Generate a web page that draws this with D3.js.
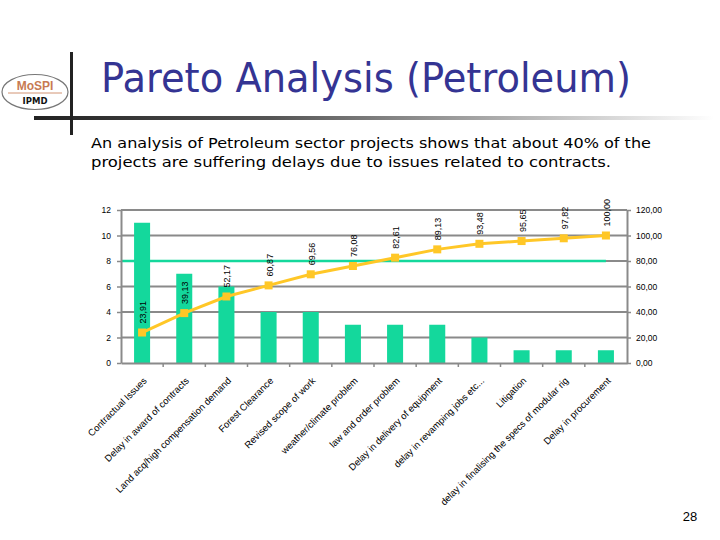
<!DOCTYPE html>
<html>
<head>
<meta charset="utf-8">
<script src="https://cdn.jsdelivr.net/npm/d3@7"></script>
<style>
  body { margin: 0; background: #fff; }
  svg { display: block; }
</style>
</head>
<body>
<div id="graphDiv"></div>
<script>
var categories = ["Contractual Issues", "Delay in award of contracts", "Land acq/high compensation demand",
  "Forest Clearance", "Revised scope of work", "weather/climate problem", "law and order problem",
  "Delay in delivery of equipment", "delay in revamping jobs etc...", "Litigation",
  "delay in finalising the specs of modular rig", "Delay in procurement"];
var counts = [11, 7, 6, 4, 4, 3, 3, 3, 2, 1, 1, 1];
var cumulative = [23.91, 39.13, 52.17, 60.87, 69.56, 76.08, 82.61, 89.13, 93.48, 95.65, 97.82, 100.00];
var leftTicks = [0, 2, 4, 6, 8, 10, 12];
var rightTicks = [0, 20, 40, 60, 80, 100, 120];
var threshold = 80;

var W = 720, H = 540;
var plot = {left: 121, right: 627, top: 210, bottom: 363};
var barColor = "#14d89c", lineColor = "#ffc727", gridColor = "#8a8a8a";

var svg = d3.select("#graphDiv")
  .append("svg")
    .attr("width", W)
    .attr("height", H);

var defs = svg.append("defs");
var grad = defs.append("linearGradient").attr("id", "fade");
grad.append("stop").attr("offset", "0%").attr("stop-color", "#222");
grad.append("stop").attr("offset", "35%").attr("stop-color", "#555");
grad.append("stop").attr("offset", "100%").attr("stop-color", "#fff");

// header decoration
svg.append("rect").attr("x", 34).attr("y", 116).attr("width", 680).attr("height", 4).attr("fill", "url(#fade)");
svg.append("rect").attr("x", 70).attr("y", 52).attr("width", 3).attr("height", 83).attr("fill", "#222");

// logo
svg.append("ellipse").attr("cx", 35).attr("cy", 92).attr("rx", 33).attr("ry", 17.5)
  .attr("fill", "#fff").attr("stroke", "#777").attr("stroke-width", 1.2);
svg.append("text").attr("x", 35).attr("y", 90).attr("text-anchor", "middle")
  .style("font-family", "Liberation Sans, Arial").style("font-weight", "bold").style("font-size", "12px")
  .attr("fill", "#c77a52").text("MoSPI");
svg.append("line").attr("x1", 8).attr("x2", 62).attr("y1", 93).attr("y2", 93)
  .attr("stroke", "#c77a52").attr("stroke-width", 0.8);
svg.append("text").attr("x", 35).attr("y", 103.5).attr("text-anchor", "middle")
  .style("font-family", "DejaVu Sans, sans-serif").style("font-weight", "bold").style("font-size", "8.5px")
  .attr("fill", "#111").text("IPMD");

// title
svg.append("text").attr("x", 101).attr("y", 92)
  .attr("textLength", 530).attr("lengthAdjust", "spacingAndGlyphs")
  .style("font-family", "DejaVu Sans, sans-serif").style("font-size", "40px")
  .attr("fill", "#343493").text("Pareto Analysis (Petroleum)");

// subtitle
svg.append("text").attr("x", 91).attr("y", 148)
  .attr("textLength", 560).attr("lengthAdjust", "spacingAndGlyphs")
  .style("font-family", "DejaVu Sans, sans-serif").style("font-size", "14.5px")
  .attr("fill", "#000").text("An  analysis of Petroleum sector projects shows that about 40% of the");
svg.append("text").attr("x", 91).attr("y", 167)
  .attr("textLength", 520).attr("lengthAdjust", "spacingAndGlyphs")
  .style("font-family", "DejaVu Sans, sans-serif").style("font-size", "14.5px")
  .attr("fill", "#000").text("projects are suffering delays due to issues related to contracts.");

// page number
svg.append("text").attr("x", 690).attr("y", 521).attr("text-anchor", "middle")
  .style("font-family", "Liberation Sans, Arial").style("font-size", "13px")
  .attr("fill", "#000").text("28");

// scales
var x = d3.scaleBand().domain(categories).range([plot.left, plot.right]);
var y = d3.scaleLinear().domain([0, 12]).range([plot.bottom, plot.top]);
var y2 = d3.scaleLinear().domain([0, 120]).range([plot.bottom, plot.top]);

var chart = svg.append("g");

// gridlines
chart.append("g").selectAll("line")
  .data(leftTicks.filter(function (d) { return d > 0; }))
  .enter().append("line")
    .attr("x1", plot.left).attr("x2", plot.right)
    .attr("y1", function (d) { return y(d); }).attr("y2", function (d) { return y(d); })
    .attr("stroke", gridColor).attr("stroke-width", 2);

// bars
var bw = x.bandwidth() * 0.38;
chart.append("g").selectAll("rect")
  .data(counts)
  .enter().append("rect")
    .attr("x", function (d, i) { return x(categories[i]) + x.bandwidth() / 2 - bw / 2; })
    .attr("y", function (d) { return y(d); })
    .attr("width", bw)
    .attr("height", function (d) { return y(0) - y(d); })
    .attr("fill", barColor);

// 80% line
chart.append("line")
  .attr("x1", plot.left)
  .attr("x2", x(categories[categories.length - 1]) + x.bandwidth() / 2)
  .attr("y1", y2(threshold)).attr("y2", y2(threshold))
  .attr("stroke", barColor).attr("stroke-width", 2.5);

// axes
var tickFont = function (g) {
  g.selectAll("text").style("font-family", "Liberation Sans, Arial").style("font-size", "8.5px").attr("fill", "#000");
  g.selectAll("line").attr("stroke", gridColor).attr("stroke-width", 1.5);
  g.select(".domain").attr("stroke", gridColor).attr("stroke-width", 2);
};

chart.append("g")
  .attr("transform", "translate(" + plot.left + ",0)")
  .call(d3.axisLeft(y).tickValues(leftTicks).tickSize(4).tickSizeOuter(0).tickPadding(6))
  .call(tickFont);

chart.append("g")
  .attr("transform", "translate(" + plot.right + ",0)")
  .call(d3.axisRight(y2).tickValues(rightTicks).tickSize(4).tickSizeOuter(0).tickPadding(5)
    .tickFormat(function (d) { return d3.format(".2f")(d).replace(".", ","); }))
  .call(tickFont);

chart.append("g")
  .attr("transform", "translate(0," + plot.bottom + ")")
  .call(d3.axisBottom(x).tickSize(0).tickSizeOuter(0).tickFormat(""))
  .call(tickFont);

// category boundary ticks
chart.append("g").selectAll("line")
  .data(categories.slice(1))
  .enter().append("line")
    .attr("x1", function (d) { return x(d); }).attr("x2", function (d) { return x(d); })
    .attr("y1", plot.bottom).attr("y2", plot.bottom + 4)
    .attr("stroke", gridColor).attr("stroke-width", 1.5);

// category labels
chart.append("g").selectAll("text")
  .data(categories)
  .enter().append("text")
    .attr("transform", function (d) {
      return "translate(" + (x(d) + x.bandwidth() / 2 + 3) + "," + (plot.bottom + 16) + ") rotate(-45)";
    })
    .attr("text-anchor", "end")
    .attr("dy", "0.35em")
    .style("font-family", "Liberation Sans, Arial")
    .style("font-size", "9.5px")
    .attr("fill", "#000")
    .text(function (d) { return d; });

// cumulative line
var line = d3.line()
  .x(function (d, i) { return x(categories[i]) + x.bandwidth() / 2; })
  .y(function (d) { return y2(d); });

chart.append("path")
  .datum(cumulative)
  .attr("d", line)
  .attr("fill", "none")
  .attr("stroke", lineColor)
  .attr("stroke-width", 3);

chart.append("g").selectAll("rect")
  .data(cumulative)
  .enter().append("rect")
    .attr("x", function (d, i) { return x(categories[i]) + x.bandwidth() / 2 - 4; })
    .attr("y", function (d) { return y2(d) - 4; })
    .attr("width", 8).attr("height", 8)
    .attr("fill", lineColor);

// data labels
chart.append("g").selectAll("text")
  .data(cumulative)
  .enter().append("text")
    .attr("transform", function (d, i) {
      return "translate(" + (x(categories[i]) + x.bandwidth() / 2 + 4) + "," + (y2(d) - 9) + ") rotate(-90)";
    })
    .attr("text-anchor", "start")
    .style("font-family", "Liberation Sans, Arial")
    .style("font-size", "9px")
    .attr("fill", "#000")
    .text(function (d) { return d3.format(".2f")(d).replace(".", ","); });
</script>
</body>
</html>
